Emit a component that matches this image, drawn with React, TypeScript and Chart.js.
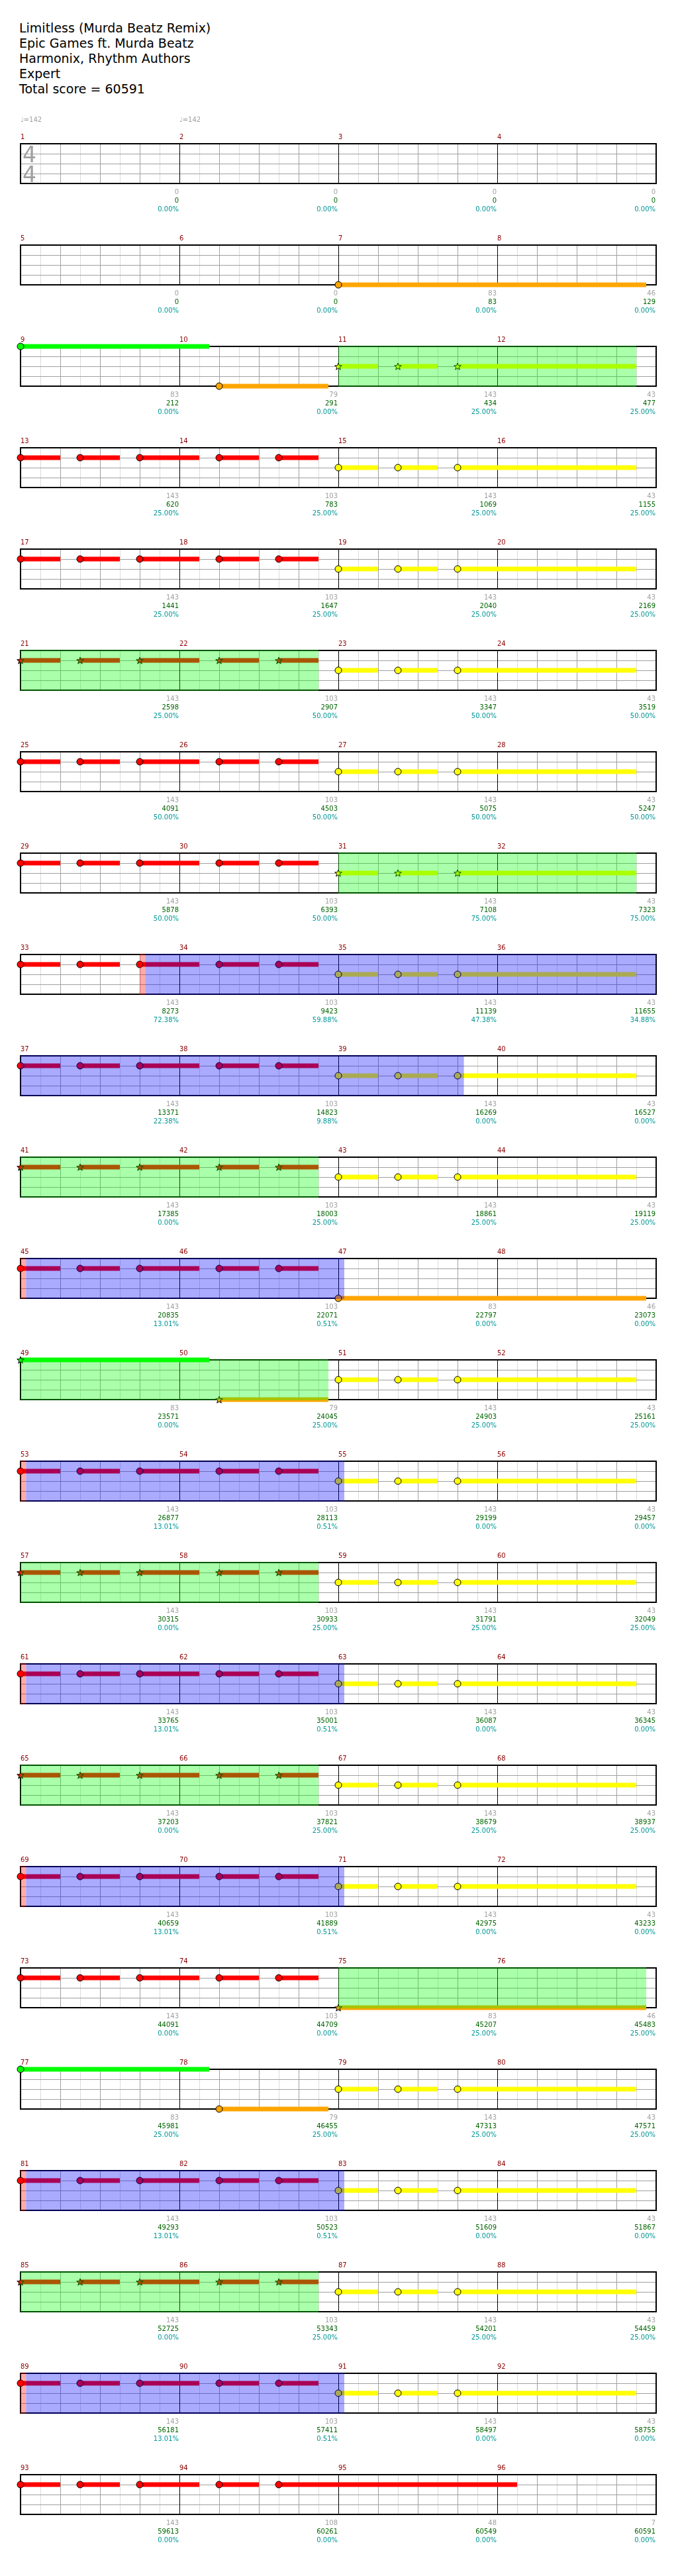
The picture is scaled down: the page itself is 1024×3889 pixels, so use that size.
import React, { useEffect, useRef } from "react";
import { Chart, registerables } from "chart.js";

Chart.register(...registerables);

// ---------------- DATA ----------------
const TITLE_LINES = [
  "Limitless (Murda Beatz Remix)",
  "Epic Games ft. Murda Beatz",
  "Harmonix, Rhythm Authors",
  "Expert",
  "Total score = 60591",
];

const LANE_Y: Record<string, number> = { G: 4, R: 3, Y: 2, B: 1, O: 0 };
const LANE_COLOR: Record<string, string> = {
  G: "#00ff00",
  R: "#ff0000",
  Y: "#ffff00",
  B: "#0000ff",
  O: "#ffa500",
};

// [lane, start beat in row, sustain length in beats, star?]
type Note = [string, number, number, boolean?];

const RED_RIFF: Note[] = [["R", 0, 1], ["R", 1.5, 1], ["R", 3, 1.5], ["R", 5, 1], ["R", 6.5, 1]];
const RED_RIFF_SP: Note[] = [["R", 0, 1, true], ["R", 1.5, 1, true], ["R", 3, 1.5, true], ["R", 5, 1, true], ["R", 6.5, 1, true]];
const YELLOW_RIFF: Note[] = [["Y", 8, 1], ["Y", 9.5, 1], ["Y", 11, 4.5]];
const YELLOW_RIFF_SP: Note[] = [["Y", 8, 1, true], ["Y", 9.5, 1, true], ["Y", 11, 4.5, true]];
const RED_OUTRO: Note[] = [["R", 0, 1], ["R", 1.5, 1], ["R", 3, 1.5], ["R", 5, 1], ["R", 6.5, 6]];

const rowNotes: Note[][] = [
  [], // 1-4
  [["O", 8, 7.75]], // 5-8
  [["G", 0, 4.75], ["O", 5, 2.75], ...YELLOW_RIFF_SP], // 9-12
  [...RED_RIFF, ...YELLOW_RIFF], // 13-16
  [...RED_RIFF, ...YELLOW_RIFF], // 17-20
  [...RED_RIFF_SP, ...YELLOW_RIFF], // 21-24
  [...RED_RIFF, ...YELLOW_RIFF], // 25-28
  [...RED_RIFF, ...YELLOW_RIFF_SP], // 29-32
  [...RED_RIFF, ...YELLOW_RIFF], // 33-36
  [...RED_RIFF, ...YELLOW_RIFF], // 37-40
  [...RED_RIFF_SP, ...YELLOW_RIFF], // 41-44
  [...RED_RIFF, ["O", 8, 7.75]], // 45-48
  [["G", 0, 4.75, true], ["O", 5, 2.75, true], ...YELLOW_RIFF], // 49-52
  [...RED_RIFF, ...YELLOW_RIFF], // 53-56
  [...RED_RIFF_SP, ...YELLOW_RIFF], // 57-60
  [...RED_RIFF, ...YELLOW_RIFF], // 61-64
  [...RED_RIFF_SP, ...YELLOW_RIFF], // 65-68
  [...RED_RIFF, ...YELLOW_RIFF], // 69-72
  [...RED_RIFF, ["O", 8, 7.75, true]], // 73-76
  [["G", 0, 4.75], ["O", 5, 2.75], ...YELLOW_RIFF], // 77-80
  [...RED_RIFF, ...YELLOW_RIFF], // 81-84
  [...RED_RIFF_SP, ...YELLOW_RIFF], // 85-88
  [...RED_RIFF, ...YELLOW_RIFF], // 89-92
  [...RED_OUTRO], // 93-96
];

// [row index (0-based), start beat, end beat]
const spPhrases: [number, number, number][] = [
  [2, 8, 15.5],
  [5, 0, 7.5],
  [7, 8, 15.5],
  [10, 0, 7.5],
  [12, 0, 7.75],
  [14, 0, 7.5],
  [16, 0, 7.5],
  [18, 8, 15.75],
  [21, 0, 7.5],
];
const activations: [number, number, number][] = [
  [8, 3, 3.14],
  [11, 0, 0.14],
  [13, 0, 0.14],
  [15, 0, 0.14],
  [17, 0, 0.14],
  [20, 0, 0.14],
  [22, 0, 0.14],
];
const overdrive: [number, number, number][] = [
  [8, 3.14, 16],
  [9, 0, 11.16],
  [11, 0.14, 8.15],
  [13, 0.14, 8.15],
  [15, 0.14, 8.15],
  [17, 0.14, 8.15],
  [20, 0.14, 8.15],
  [22, 0.14, 8.15],
];

// tempo marks: [measure number, bpm]
const tempoMarks: [number, number][] = [
  [1, 142],
  [2, 142],
];
const timeSignature: [number, number] = [4, 4];

const measurePoints = [
  0, 0, 0, 0,
  0, 0, 83, 46,
  83, 79, 143, 43,
  143, 103, 143, 43,
  143, 103, 143, 43,
  143, 103, 143, 43,
  143, 103, 143, 43,
  143, 103, 143, 43,
  143, 103, 143, 43,
  143, 103, 143, 43,
  143, 103, 143, 43,
  143, 103, 83, 46,
  83, 79, 143, 43,
  143, 103, 143, 43,
  143, 103, 143, 43,
  143, 103, 143, 43,
  143, 103, 143, 43,
  143, 103, 143, 43,
  143, 103, 83, 46,
  83, 79, 143, 43,
  143, 103, 143, 43,
  143, 103, 143, 43,
  143, 103, 143, 43,
  143, 108, 48, 7,
];

const totalScores = [
  0, 0, 0, 0,
  0, 0, 83, 129,
  212, 291, 434, 477,
  620, 783, 1069, 1155,
  1441, 1647, 2040, 2169,
  2598, 2907, 3347, 3519,
  4091, 4503, 5075, 5247,
  5878, 6393, 7108, 7323,
  8273, 9423, 11139, 11655,
  13371, 14823, 16269, 16527,
  17385, 18003, 18861, 19119,
  20835, 22071, 22797, 23073,
  23571, 24045, 24903, 25161,
  26877, 28113, 29199, 29457,
  30315, 30933, 31791, 32049,
  33765, 35001, 36087, 36345,
  37203, 37821, 38679, 38937,
  40659, 41889, 42975, 43233,
  44091, 44709, 45207, 45483,
  45981, 46455, 47313, 47571,
  49293, 50523, 51609, 51867,
  52725, 53343, 54201, 54459,
  56181, 57411, 58497, 58755,
  59613, 60261, 60549, 60591,
];

const spMeter = [
  0, 0, 0, 0,
  0, 0, 0, 0,
  0, 0, 25, 25,
  25, 25, 25, 25,
  25, 25, 25, 25,
  25, 50, 50, 50,
  50, 50, 50, 50,
  50, 50, 75, 75,
  72.38, 59.88, 47.38, 34.88,
  22.38, 9.88, 0, 0,
  0, 25, 25, 25,
  13.01, 0.51, 0, 0,
  0, 25, 25, 25,
  13.01, 0.51, 0, 0,
  0, 25, 25, 25,
  13.01, 0.51, 0, 0,
  0, 25, 25, 25,
  13.01, 0.51, 0, 0,
  0, 0, 25, 25,
  25, 25, 25, 25,
  13.01, 0.51, 0, 0,
  0, 25, 25, 25,
  13.01, 0.51, 0, 0,
  0, 0, 0, 0,
];

// ---------------- LAYOUT ----------------
const ROW_COUNT = 24;
const MEASURES_PER_ROW = 4;
const BEATS_PER_MEASURE = 4;
const ROW_BEATS = MEASURES_PER_ROW * BEATS_PER_MEASURE;
const FIRST_STAFF_TOP = 217;
const ROW_STEP = 153;
const PAD_TOP = 50;
const CANVAS_H = 160;
const STAFF_H = 60;
const STAFF_LEFT = 31;
const STAFF_RIGHT = 991;
const FONT = "'DejaVu Sans', 'Liberation Sans', sans-serif";

const starCache: Record<string, HTMLCanvasElement> = {};
function starImage(color: string): HTMLCanvasElement {
  if (starCache[color]) return starCache[color];
  const c = document.createElement("canvas");
  c.width = 14;
  c.height = 14;
  const g = c.getContext("2d")!;
  const cx = 7, cy = 7.6, ro = 5.6, ri = 2.3;
  g.beginPath();
  for (let i = 0; i < 10; i++) {
    const a = -Math.PI / 2 + (i * Math.PI) / 5;
    const r = i % 2 === 0 ? ro : ri;
    const px = cx + r * Math.cos(a);
    const py = cy + r * Math.sin(a);
    if (i === 0) g.moveTo(px, py);
    else g.lineTo(px, py);
  }
  g.closePath();
  g.fillStyle = color;
  g.fill();
  g.strokeStyle = "#000";
  g.lineWidth = 1;
  g.stroke();
  starCache[color] = c;
  return c;
}

function buildDatasets(row: number) {
  const notes = rowNotes[row];
  const ds: any[] = [];
  notes.forEach(([lane, start, len]) => {
    ds.push({
      type: "scatter",
      showLine: true,
      data: [
        { x: start, y: LANE_Y[lane] },
        { x: start + len, y: LANE_Y[lane] },
      ],
      borderColor: LANE_COLOR[lane],
      backgroundColor: LANE_COLOR[lane],
      borderWidth: 7,
      borderCapStyle: "butt",
      pointRadius: 0,
      pointHoverRadius: 0,
      clip: false,
      order: 1,
    });
  });
  const lanes = Array.from(new Set(notes.map((n) => n[0])));
  lanes.forEach((lane) => {
    ds.push({
      type: "scatter",
      showLine: false,
      data: notes
        .filter((n) => n[0] === lane)
        .map((n) => ({ x: n[1], y: LANE_Y[lane], star: !!n[3] })),
      pointStyle: (c: any) => (c.raw && c.raw.star ? starImage(LANE_COLOR[lane]) : "circle"),
      pointRadius: 5,
      pointHoverRadius: 5,
      backgroundColor: LANE_COLOR[lane],
      borderColor: "#000",
      borderWidth: 1,
      clip: false,
      order: 0,
    });
  });
  return ds;
}

function makePlugins(row: number) {
  const gridPlugin = {
    id: "staffGrid",
    beforeDatasetsDraw(chart: any) {
      const ctx = chart.ctx;
      const xs = chart.scales.x;
      const ys = chart.scales.y;
      const L = xs.getPixelForValue(0);
      const R = xs.getPixelForValue(ROW_BEATS);
      const T = ys.getPixelForValue(4);
      const B = ys.getPixelForValue(0);
      ctx.save();
      ctx.lineWidth = 1;
      // eighth-note lines
      ctx.strokeStyle = "#dcdcdc";
      for (let e = 1; e < ROW_BEATS * 2; e += 2) {
        const x = Math.round(xs.getPixelForValue(e / 2)) + 0.5;
        ctx.beginPath();
        ctx.moveTo(x, T);
        ctx.lineTo(x, B);
        ctx.stroke();
      }
      // beat lines
      ctx.strokeStyle = "#a0a0a0";
      for (let b = 1; b < ROW_BEATS; b++) {
        if (b % BEATS_PER_MEASURE === 0) continue;
        const x = Math.round(xs.getPixelForValue(b)) + 0.5;
        ctx.beginPath();
        ctx.moveTo(x, T);
        ctx.lineTo(x, B);
        ctx.stroke();
      }
      // lane lines
      for (let l = 1; l < 4; l++) {
        const y = Math.round(ys.getPixelForValue(l)) + 0.5;
        ctx.beginPath();
        ctx.moveTo(L, y);
        ctx.lineTo(R, y);
        ctx.stroke();
      }
      // measure lines
      ctx.strokeStyle = "#000";
      for (let m = 1; m < MEASURES_PER_ROW; m++) {
        const x = Math.round(xs.getPixelForValue(m * BEATS_PER_MEASURE)) + 0.5;
        ctx.beginPath();
        ctx.moveTo(x, T);
        ctx.lineTo(x, B);
        ctx.stroke();
      }
      // border
      ctx.lineWidth = 2;
      ctx.strokeRect(L, T, R - L, B - T);
      // time signature on first row
      if (row === 0) {
        ctx.fillStyle = "#a0a0a0";
        ctx.font = `33px ${FONT}`;
        ctx.textAlign = "left";
        ctx.textBaseline = "alphabetic";
        ctx.fillText(String(timeSignature[0]), L + 3, T + 28);
        ctx.fillText(String(timeSignature[1]), L + 3, T + 58);
      }
      ctx.restore();
    },
    afterDatasetsDraw(chart: any) {
      const ctx = chart.ctx;
      const xs = chart.scales.x;
      const ys = chart.scales.y;
      const T = ys.getPixelForValue(4);
      const B = ys.getPixelForValue(0);
      const band = (list: [number, number, number][], color: string) => {
        list.forEach(([r, s, e]) => {
          if (r !== row) return;
          const x0 = xs.getPixelForValue(s);
          const x1 = xs.getPixelForValue(e);
          ctx.fillStyle = color;
          ctx.fillRect(x0, T - 1, x1 - x0, B - T + 2);
        });
      };
      ctx.save();
      band(spPhrases, "rgba(0,255,0,0.333)");
      band(activations, "rgba(255,0,0,0.333)");
      band(overdrive, "rgba(0,0,255,0.333)");
      ctx.restore();
    },
    afterDraw(chart: any) {
      const ctx = chart.ctx;
      const xs = chart.scales.x;
      const ys = chart.scales.y;
      const T = ys.getPixelForValue(4);
      const B = ys.getPixelForValue(0);
      ctx.save();
      ctx.textBaseline = "alphabetic";
      for (let m = 0; m < MEASURES_PER_ROW; m++) {
        const idx = row * MEASURES_PER_ROW + m;
        const xStart = xs.getPixelForValue(m * BEATS_PER_MEASURE);
        const xEnd = xs.getPixelForValue((m + 1) * BEATS_PER_MEASURE);
        // measure number
        ctx.textAlign = "left";
        ctx.font = `10px ${FONT}`;
        ctx.fillStyle = "#8b0000";
        ctx.fillText(String(idx + 1), xStart, T - 7);
        // tempo marks
        tempoMarks.forEach(([meas, bpm]) => {
          if (meas === idx + 1) {
            ctx.fillStyle = "#a0a0a0";
            ctx.font = `10px ${FONT}`;
            ctx.fillText("\u2669=" + bpm, xStart, T - 33);
          }
        });
        // scores
        ctx.textAlign = "right";
        ctx.font = `10px ${FONT}`;
        ctx.fillStyle = "#a0a0a0";
        ctx.fillText(String(measurePoints[idx]), xEnd - 1, B + 16);
        ctx.fillStyle = "#006400";
        ctx.fillText(String(totalScores[idx]), xEnd - 1, B + 29);
        ctx.fillStyle = "#009696";
        ctx.fillText(spMeter[idx].toFixed(2) + "%", xEnd - 1, B + 42);
      }
      ctx.restore();
    },
  };
  return [gridPlugin];
}

function RowChart({ row }: { row: number }) {
  const ref = useRef<HTMLCanvasElement | null>(null);
  useEffect(() => {
    const canvas = ref.current;
    if (!canvas) return;
    const chart = new Chart(canvas, {
      type: "scatter",
      data: { datasets: buildDatasets(row) },
      options: {
        animation: false,
        responsive: false,
        devicePixelRatio: 1,
        events: [],
        layout: {
          padding: {
            left: STAFF_LEFT,
            right: 1024 - STAFF_RIGHT,
            top: PAD_TOP,
            bottom: CANVAS_H - PAD_TOP - STAFF_H,
          },
        },
        scales: {
          x: { type: "linear", min: 0, max: ROW_BEATS, display: false },
          y: { type: "linear", min: 0, max: 4, display: false },
        },
        plugins: {
          legend: { display: false },
          tooltip: { enabled: false },
        },
      } as any,
      plugins: makePlugins(row) as any,
    } as any);
    return () => chart.destroy();
  }, [row]);
  const top = FIRST_STAFF_TOP + row * ROW_STEP - PAD_TOP;
  return (
    <canvas
      ref={ref}
      width={1024}
      height={CANVAS_H}
      style={{ position: "absolute", left: 0, top, width: 1024, height: CANVAS_H }}
    />
  );
}

export default function App() {
  const rows = Array.from({ length: ROW_COUNT }, (_, i) => i);
  return (
    <div
      style={{
        position: "absolute",
        left: 0,
        top: 0,
        width: 1024,
        height: 3889,
        background: "#fff",
        overflow: "hidden",
      }}
    >
      <div
        style={{
          position: "absolute",
          left: 29,
          top: 31,
          fontFamily: FONT,
          fontSize: 19,
          lineHeight: "23px",
          color: "#000",
          whiteSpace: "pre",
        }}
      >
        {TITLE_LINES.map((t, i) => (
          <div key={i}>{t}</div>
        ))}
      </div>
      {rows.map((r) => (
        <RowChart key={r} row={r} />
      ))}
    </div>
  );
}
